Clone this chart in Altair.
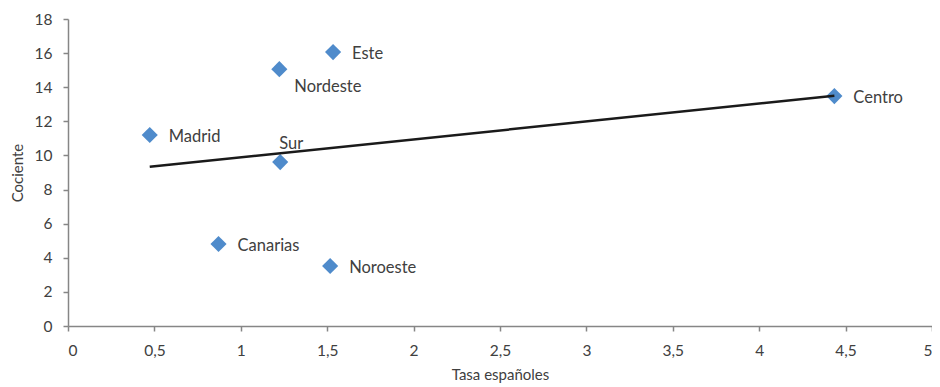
import altair as alt
import pandas as pd

regions = ["Madrid", "Canarias", "Nordeste", "Sur", "Este", "Noroeste", "Centro"]
tasa = [0.473, 0.871, 1.223, 1.228, 1.534, 1.517, 4.435]
cociente = [11.2, 4.81, 15.06, 9.61, 16.06, 3.52, 13.48]
x_ticks = [0, 0.5, 1, 1.5, 2, 2.5, 3, 3.5, 4, 4.5, 5]
y_ticks = [0, 2, 4, 6, 8, 10, 12, 14, 16, 18]

df = pd.DataFrame({"region": regions, "tasa": tasa, "cociente": cociente})

FONT = "Lato"
TXT = "#404040"

x = alt.X("tasa:Q", title="Tasa españoles",
          scale=alt.Scale(domain=[0, 5], nice=False),
          axis=alt.Axis(values=x_ticks,
                        labelExpr="replace(format(datum.value, '~g'), '.', ',')",
                        labelOverlap=False,
                        grid=False, tickSize=5, labelPadding=12, titlePadding=9))
y = alt.Y("cociente:Q", title="Cociente",
          scale=alt.Scale(domain=[0, 18], nice=False),
          axis=alt.Axis(values=y_ticks, grid=False, tickSize=5,
                        labelOverlap=False,
                        labelPadding=11, titlePadding=9))

base = alt.Chart(df)

points = base.mark_point(shape="diamond", filled=True, size=260, opacity=1,
                         color="#4F8BCB").encode(x=x, y=y)

trend = base.transform_regression("tasa", "cociente").mark_line(
    color="#1a1a1a", strokeWidth=2.5).encode(x=x, y=y)

right_labels = base.transform_filter(
    "datum.region != 'Nordeste' && datum.region != 'Sur'"
).mark_text(align="left", baseline="middle", dx=19, dy=2, fontSize=16.5,
            font=FONT, color=TXT).encode(x=x, y=y, text="region:N")

nordeste_label = base.transform_filter("datum.region == 'Nordeste'").mark_text(
    align="left", baseline="middle", dx=15, dy=18, fontSize=16.5, font=FONT, color=TXT
).encode(x=x, y=y, text="region:N")

sur_label = base.transform_filter("datum.region == 'Sur'").mark_text(
    align="left", baseline="middle", dx=-1, dy=-18, fontSize=16.5, font=FONT, color=TXT
).encode(x=x, y=y, text="region:N")

chart = alt.layer(points, trend, right_labels, nordeste_label, sur_label).properties(
    width=864, height=307,
    autosize=alt.AutoSizeParams(type="none"),
    padding={"left": 60, "top": 11, "right": 0, "bottom": 60},
).configure_view(stroke=None).configure_axis(
    domainColor="#868686", tickColor="#868686", domainWidth=1.5, tickWidth=1.5,
    labelFont=FONT, titleFont=FONT, labelFontSize=15.5, titleFontSize=15,
    labelColor=TXT, titleColor=TXT, titleFontWeight="normal",
)

chart.save("out.html", embed_options={"renderer": "svg", "actions": False})
